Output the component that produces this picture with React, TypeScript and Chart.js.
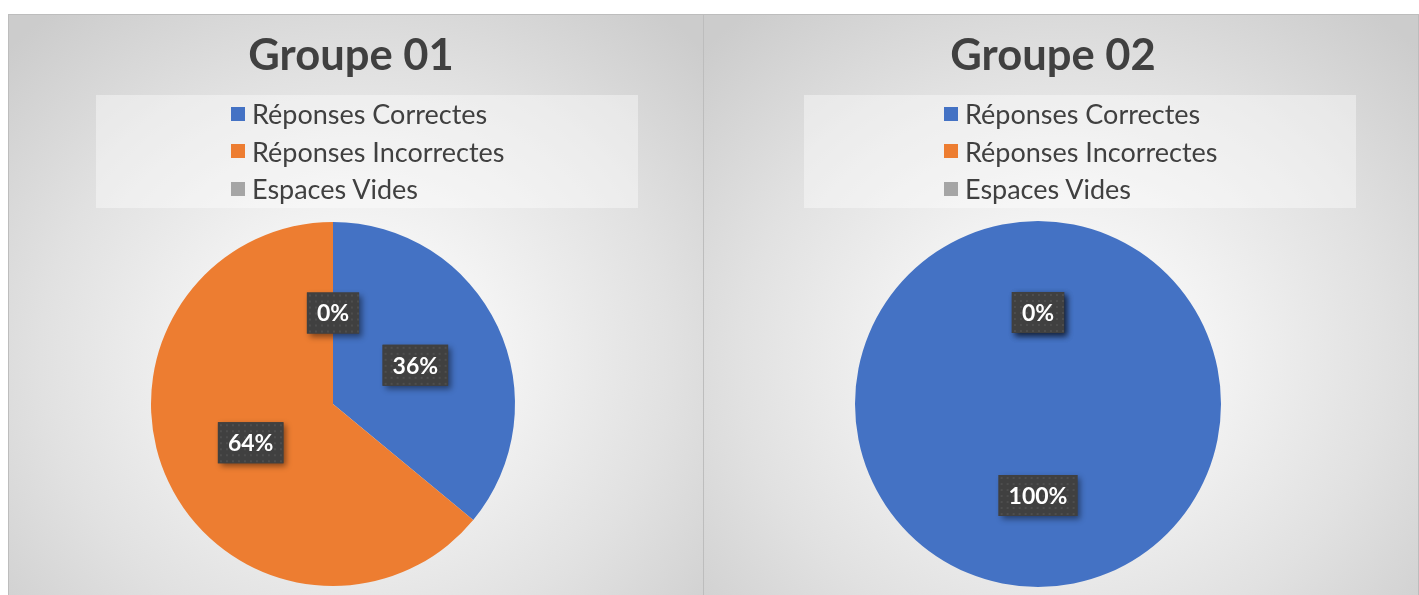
import React, { useEffect, useRef } from "react";
import { Chart, registerables } from "chart.js";

Chart.register(...registerables);

const categories = ["Réponses Correctes", "Réponses Incorrectes", "Espaces Vides"];
const group01Values = [36, 64, 0];
const group02Values = [100, 0, 0];
const groupTitles = ["Groupe 01", "Groupe 02"];
const sliceColors = ["#4472C4", "#ED7D31", "#A5A5A5"];

let dotPattern: CanvasPattern | null = null;
function getPattern(ctx: CanvasRenderingContext2D) {
  if (dotPattern) return dotPattern;
  const c = document.createElement("canvas");
  c.width = 6;
  c.height = 6;
  const p = c.getContext("2d")!;
  p.fillStyle = "#404040";
  p.fillRect(0, 0, 6, 6);
  p.fillStyle = "#4e4e4e";
  p.fillRect(2, 2, 2, 2);
  dotPattern = ctx.createPattern(c, "repeat");
  return dotPattern;
}

const pctLabelPlugin = {
  id: "pctLabels",
  afterDatasetsDraw(chart: any) {
    const ctx: CanvasRenderingContext2D = chart.ctx;
    const ds = chart.data.datasets[0];
    const meta = chart.getDatasetMeta(0);
    const total = ds.data.reduce((a: number, b: number) => a + b, 0);
    ctx.save();
    ctx.font = "bold 23px Lato, 'Open Sans', sans-serif";
    ctx.textAlign = "center";
    ctx.textBaseline = "middle";
    meta.data.forEach((arc: any, i: number) => {
      const { x, y } = arc.tooltipPosition();
      const txt = Math.round((ds.data[i] / total) * 100) + "%";
      const w = ctx.measureText(txt).width + 20;
      const h = 41;
      ctx.save();
      ctx.shadowColor = "rgba(0,0,0,0.45)";
      ctx.shadowBlur = 6;
      ctx.shadowOffsetX = 3;
      ctx.shadowOffsetY = 3;
      ctx.fillStyle = "#404040";
      ctx.fillRect(x - w / 2, y - h / 2, w, h);
      ctx.restore();
      ctx.save();
      ctx.translate(x - w / 2, y - h / 2);
      ctx.fillStyle = getPattern(ctx) || "#404040";
      ctx.fillRect(0, 0, w, h);
      ctx.restore();
      ctx.fillStyle = "#ffffff";
      ctx.fillText(txt, x, y + 1);
    });
    ctx.restore();
  },
};

type PanelProps = {
  title: string;
  values: number[];
  left: number;
  width: number;
  padTop: number;
  padBottom: number;
  padRight: number;
  titleCenter: number;
  legendLeft: number;
  legendWidth: number;
  itemsLeft: number;
};

const PANEL_TOP = 14;
const PANEL_HEIGHT = 581;

function PiePanel(props: PanelProps) {
  const ref = useRef<HTMLCanvasElement | null>(null);
  useEffect(() => {
    if (!ref.current) return;
    const chart = new Chart(ref.current, {
      type: "pie",
      data: {
        labels: categories,
        datasets: [
          {
            data: props.values,
            backgroundColor: sliceColors,
            borderWidth: 0,
          },
        ],
      },
      options: {
        responsive: false,
        maintainAspectRatio: false,
        animation: false,
        layout: {
          padding: { top: props.padTop, bottom: props.padBottom, left: 0, right: props.padRight },
        },
        plugins: {
          legend: { display: false },
          title: { display: false },
          tooltip: { enabled: false },
        },
      },
      plugins: [pctLabelPlugin],
    });
    return () => chart.destroy();
  }, []);

  return (
    <div
      style={{
        position: "absolute",
        left: props.left,
        top: PANEL_TOP,
        width: props.width,
        height: PANEL_HEIGHT + 10,
        boxSizing: "border-box",
        border: "1px solid #bdbdbd",
        background:
          "radial-gradient(ellipse 70% 75% at 50% 58%, #ffffff 0%, #f3f3f3 30%, #e1e1e1 65%, #cccccc 100%)",
        overflow: "hidden",
      }}
    >
      <canvas
        ref={ref}
        width={props.width}
        height={PANEL_HEIGHT}
        style={{ position: "absolute", left: -1, top: -1, width: props.width, height: PANEL_HEIGHT }}
      />
      <div
        style={{
          position: "absolute",
          left: props.titleCenter - 200,
          width: 400,
          top: 14,
          height: 48,
          lineHeight: "48px",
          textAlign: "center",
          fontFamily: "Lato, 'Open Sans', sans-serif",
          fontWeight: 700,
          fontSize: 43.5,
          color: "#404040",
        }}
      >
        {props.title}
      </div>
      <div
        style={{
          position: "absolute",
          left: props.legendLeft,
          width: props.legendWidth,
          top: 80,
          height: 113,
          background: "rgba(255,255,255,0.4)",
        }}
      >
        {categories.map((c, i) => (
          <div
            key={c}
            style={{
              position: "absolute",
              left: props.itemsLeft - props.legendLeft,
              top: i * 37.5,
              height: 37.5,
              display: "flex",
              alignItems: "center",
              fontFamily: "Lato, 'Open Sans', sans-serif",
              fontSize: 27,
              color: "#404040",
              whiteSpace: "nowrap",
            }}
          >
            <span
              style={{
                display: "inline-block",
                width: 14,
                height: 14,
                background: sliceColors[i],
                marginRight: 7,
              }}
            />
            <span>{c}</span>
          </div>
        ))}
      </div>
    </div>
  );
}

export default function App() {
  return (
    <div
      style={{
        position: "fixed",
        left: 0,
        top: 0,
        width: 1419,
        height: 595,
        background: "#ffffff",
        overflow: "hidden",
      }}
    >
      <PiePanel
        title={groupTitles[0]}
        values={group01Values}
        left={8}
        width={696}
        padTop={208}
        padBottom={9}
        padRight={46}
        titleCenter={342}
        legendLeft={87}
        legendWidth={542}
        itemsLeft={222}
      />
      <PiePanel
        title={groupTitles[1]}
        values={group02Values}
        left={703}
        width={716}
        padTop={207}
        padBottom={8}
        padRight={46}
        titleCenter={349}
        legendLeft={100}
        legendWidth={552}
        itemsLeft={240}
      />
    </div>
  );
}
